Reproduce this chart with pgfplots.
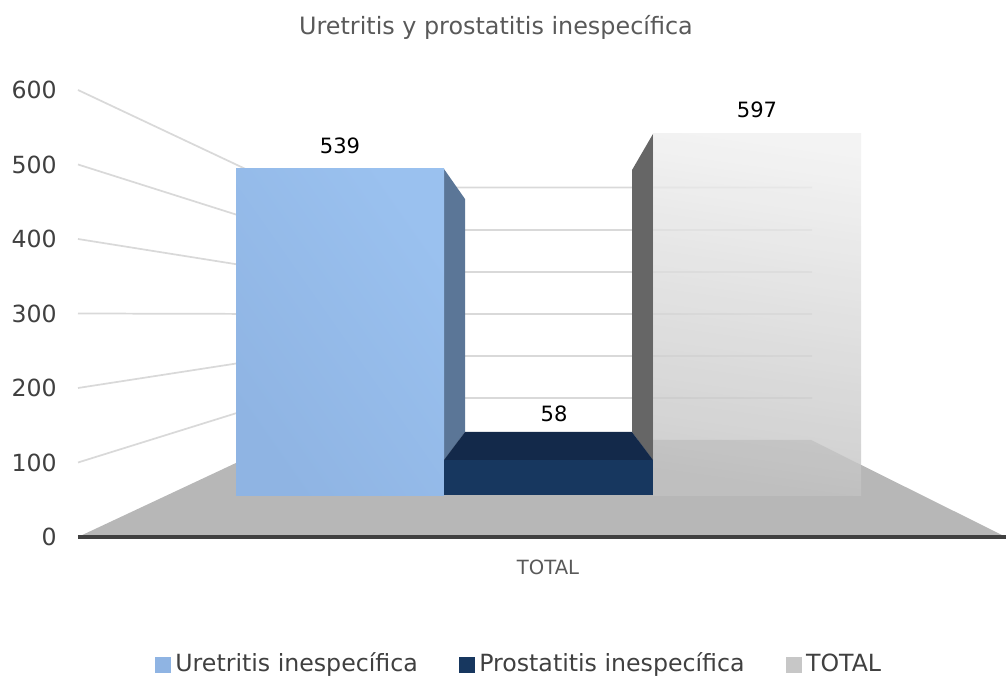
\documentclass[border=0pt]{standalone}
\usepackage{fontspec}
\setmainfont{DejaVu Sans}
\usepackage{pgfplots}
\pgfplotsset{compat=1.18}
\definecolor{uret}{HTML}{8FB4E3}
\definecolor{uretlight}{HTML}{9AC1EF}
\definecolor{uretside}{HTML}{5B7697}
\definecolor{prost}{HTML}{17375F}
\definecolor{prosttop}{HTML}{13294A}
\definecolor{totalside}{HTML}{666666}
\definecolor{floorgray}{HTML}{B7B7B7}
\definecolor{gridgray}{HTML}{D9D9D9}
\definecolor{textgray}{HTML}{595959}
\definecolor{ticktext}{HTML}{404040}
% 1 px of the reference = 0.75pt here; x is in pixels in both axes
\pgfplotsset{
  canvas/.style={
    scale only axis, width=696pt, height=335.25pt,
    xmin=78, xmax=1006, clip=false
  },
  grid line/.style={draw=gridgray, line width=1.3pt, forget plot},
  legend square/.style={legend image code/.code={
    \fill[#1] (0pt,-6.6pt) rectangle (11.2pt,4.6pt);}}
}

\begin{document}
\begin{tikzpicture}
\path[use as bounding box] (-58.5pt,-105pt) rectangle (696pt,402.75pt);

% back: value axis, walls and floor
\begin{axis}[canvas, ymin=0, ymax=600,
  axis x line=bottom, axis y line=left,
  x axis line style={draw=ticktext, line width=2.4pt, -},
  y axis line style={draw=none},
  major tick length=0pt, axis on top,
  ytick={0,100,200,300,400,500,600},
  xtick={548}, xticklabels={TOTAL},
  /pgf/number format/assume math mode=true,
  y tick label style={font=\fontsize{17.7}{20}\selectfont, text=ticktext, xshift=-12.5pt},
  x tick label style={font=\fontsize{14.7}{17}\selectfont, text=textgray, yshift=-14pt},
  title={Uretritis y prostatitis inespecífica},
  title style={at={(0.4504,1.121)}, anchor=center, font=\fontsize{17.9}{20}\selectfont, text=textgray}]
  \addplot[fill=floorgray, draw=none] coordinates {(78,0) (285,130.2) (811,130.2) (1006,0)} -- cycle;
  \addplot[grid line] coordinates {(78,600) (285,469) (812,469)};
  \addplot[grid line] coordinates {(78,500) (285,412) (812,412)};
  \addplot[grid line] coordinates {(78,400) (285,355.7) (812,355.7)};
  \addplot[grid line] coordinates {(78,300) (285,299.3) (812,299.3)};
  \addplot[grid line] coordinates {(78,200) (285,243) (812,243)};
  \addplot[grid line] coordinates {(78,100) (285,186.6) (812,186.6)};
\end{axis}

% front: the bars, in their own values
\begin{axis}[canvas, ymin=-69.4, ymax=669.6, hide axis,
  legend columns=3,
  legend style={at={(0.083,-0.283)}, anchor=west, draw=none, fill=none,
    inner sep=0pt, font=\fontsize{17.75}{20}\selectfont, text=ticktext,
    /tikz/every odd column/.style={column sep=1.5pt},
    /tikz/every even column/.style={column sep=29pt}},
  legend cell align=left]
  % total: side face first, then front
  \addplot[forget plot, fill=totalside, draw=none] coordinates {(653,597) (632,537.2) (632,104.2) (653,58)} -- cycle;
  \addplot[forget plot, top color=black!6, bottom color=black!24, shading angle=-8, fill opacity=0.8, draw=none]
    coordinates {(653,0) (861,0) (861,597) (653,597)} -- cycle;
  % uretritis
  \addplot[forget plot, fill=uretside, draw=none] coordinates {(444,539) (465,489.4) (465,104.2) (444,58)} -- cycle;
  \addplot[forget plot, left color=uret, right color=uretlight, shading angle=125, draw=none]
    coordinates {(236,0) (444,0) (444,539) (236,539)} -- cycle;
  % prostatitis
  \addplot[forget plot, fill=prosttop, draw=none] coordinates {(444,58) (465,104.2) (632,104.2) (653,58)} -- cycle;
  \addplot[forget plot, fill=prost, draw=none] coordinates {(444,0) (653,0) (653,58) (444,58)} -- cycle;

  \node[font=\fontsize{15.8}{18}\selectfont] at (axis cs:340,578) {539};
  \node[font=\fontsize{15.8}{18}\selectfont] at (axis cs:554,134) {58};
  \node[font=\fontsize{15.8}{18}\selectfont] at (axis cs:757,636) {597};

  \addlegendimage{legend square={uret}}
  \addlegendentry{Uretritis inespecífica}
  \addlegendimage{legend square={prost}}
  \addlegendentry{Prostatitis inespecífica}
  \addlegendimage{legend square={black!22}}
  \addlegendentry{TOTAL}
\end{axis}
\end{tikzpicture}
\end{document}
